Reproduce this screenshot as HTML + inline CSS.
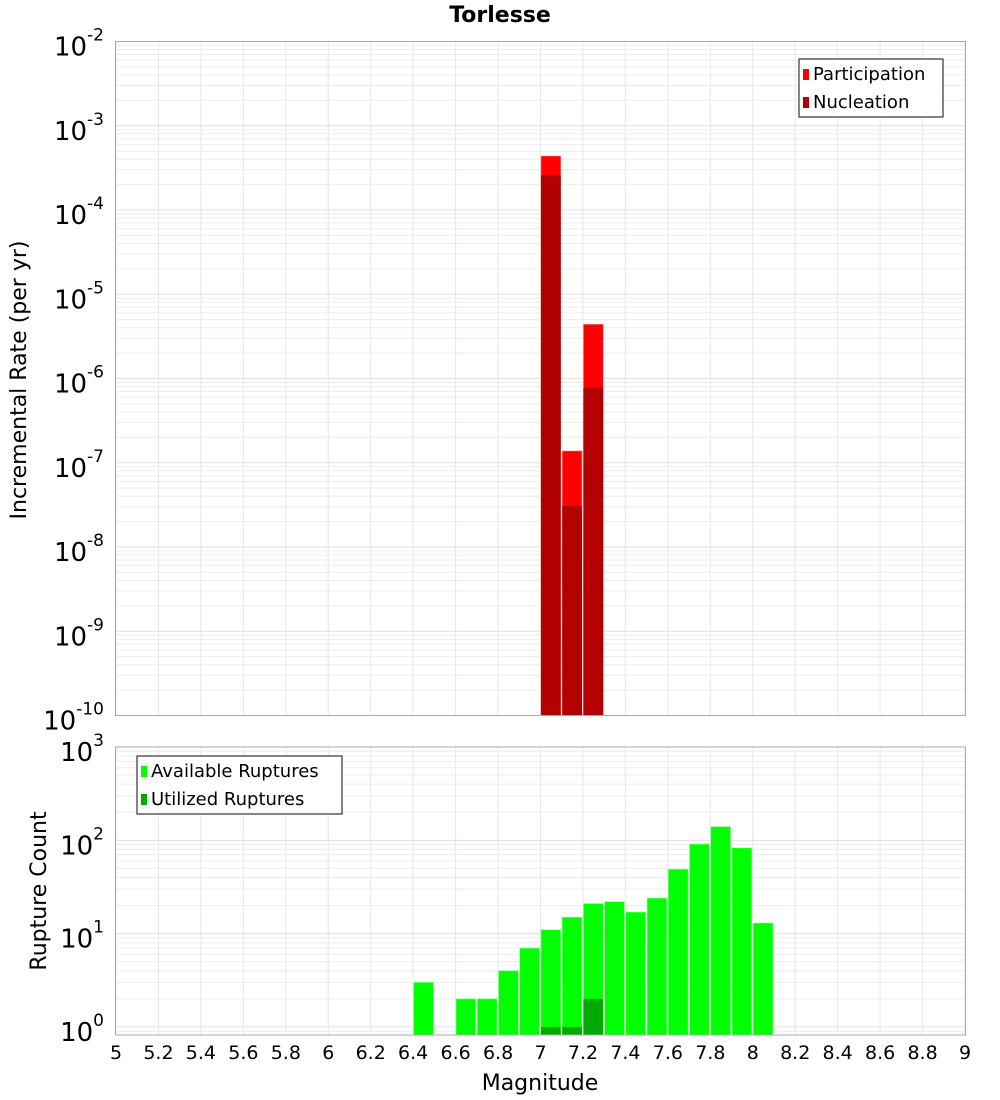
<!DOCTYPE html>
<html><head><meta charset="utf-8"><style>
html,body{margin:0;padding:0;background:#fff;}
svg{display:block;font-family:"Liberation Sans","DejaVu Sans",sans-serif;}
</style></head><body>
<svg id="chart" width="1000" height="1100" xmlns="http://www.w3.org/2000/svg">
<text x="500" y="22" text-anchor="middle" font-size="22" font-weight="bold" font-family="DejaVu Sans, sans-serif">Torlesse</text>
<g id="top"></g><g id="bot"></g>
<text x="540" y="1090" text-anchor="middle" font-size="22" font-family="DejaVu Sans, sans-serif">Magnitude</text>
<text transform="translate(26,380) rotate(-90)" text-anchor="middle" font-size="22" font-family="DejaVu Sans, sans-serif">Incremental Rate (per yr)</text>
<text transform="translate(46,891) rotate(-90)" text-anchor="middle" font-size="22" font-family="DejaVu Sans, sans-serif">Rupture Count</text>
</svg>
<script>
const topBins = [7.0, 7.1, 7.2];
const participation = [4.37e-4, 1.38e-7, 4.4e-6];
const nucleation = [2.58e-4, 3.07e-8, 7.7e-7];
const botBins = [6.4, 6.6, 6.7, 6.8, 6.9, 7.0, 7.1, 7.2, 7.3, 7.4, 7.5, 7.6, 7.7, 7.8, 7.9, 8.0];
const available = [3, 2, 2, 4, 7, 11, 15, 21, 22, 17, 24, 49, 91, 140, 83, 13];
const utilizedBins = [7.0, 7.1, 7.2];
const utilized = [1, 1, 2];
const xTicks = ["5","5.2","5.4","5.6","5.8","6","6.2","6.4","6.6","6.8","7","7.2","7.4","7.6","7.8","8","8.2","8.4","8.6","8.8","9"];
const topDecades = [-2,-3,-4,-5,-6,-7,-8,-9,-10];
const botDecades = [3,2,1,0];

const NS="http://www.w3.org/2000/svg";
const X0=116,X1=965;
function xs(m){return X0+(m-5)/4*(X1-X0);}
const T={top:41.5,bot:715.5,min:-10,max:-2};
const B={top:747,bot:1035,min:-0.086,max:3};
function ys(P,v){const l=Math.log10(v);return P.bot-(l-P.min)/(P.max-P.min)*(P.bot-P.top);}
function mk(parent,tag,attrs){const e=document.createElementNS(NS,tag);for(const k in attrs)e.setAttribute(k,attrs[k]);parent.appendChild(e);return e;}

function panel(g,P,decs,name){
  const bg=mk(g,'rect',{x:X0,y:P.top,width:X1-X0,height:P.bot-P.top,fill:'#fff'});
  
  
  for(let i=0;i<=20;i++){const x=xs(5+i*0.2);const l=mk(g,'line',{x1:x,x2:x,y1:P.top,y2:P.bot,stroke:'#e6e6e6','stroke-width':1});
    
    }
  for(let d=Math.floor(P.min);d<=Math.ceil(P.max);d++){for(let k=1;k<10;k++){const v=k*Math.pow(10,d);const lv=Math.log10(v);if(lv<P.min-1e-9||lv>P.max+1e-9)continue;const y=ys(P,v);
    const l=mk(g,'line',{x1:X0,x2:X1,y1:y,y2:y,stroke:k==1?'#e0e0e0':'#ececec','stroke-width':1});
    
    }}
  decs.forEach(d=>{const y=ys(P,Math.pow(10,d));const t=mk(g,'text',{x:104,y:y+14,'text-anchor':'end','font-size':26,'font-family':'DejaVu Sans, sans-serif'});
    
    
    t.textContent='10';const s=mk(t,'tspan',{dy:-15,'font-size':17});s.textContent=String(d);});
}
const gt=document.getElementById('top'),gb=document.getElementById('bot');
panel(gt,T,topDecades,'top');
panel(gb,B,botDecades,'bottom');

const bw=(xs(5.1)-xs(5));
topBins.forEach((m,i)=>{
  const y1=ys(T,participation[i]);
  const r=mk(gt,'rect',{x:xs(m)+0.5,y:y1,width:bw-1.5,height:T.bot-y1,fill:'#ff0000',stroke:'#ff8080','stroke-width':0.6});
  
  
  const y2=ys(T,nucleation[i]);
  const n=mk(gt,'rect',{x:xs(m)+0.5,y:y2,width:bw-1.5,height:T.bot-y2,fill:'#b30000'});
  
  
});
botBins.forEach((m,i)=>{
  const y=ys(B,available[i]);
  const r=mk(gb,'rect',{x:xs(m)+0.5,y:y,width:bw-1.5,height:B.bot-y,fill:'#00ff00',stroke:'#80ff80','stroke-width':0.6});
  
  
});
utilizedBins.forEach((m,i)=>{
  const y=ys(B,utilized[i]);
  const r=mk(gb,'rect',{x:xs(m)+0.5,y:y,width:bw-1.5,height:B.bot-y,fill:'#00aa00'});
  
  
});
[[gt,T],[gb,B]].forEach(([g,P])=>{const f=mk(g,'rect',{x:X0-0.5,y:P.top,width:X1-X0+1,height:P.bot-P.top,fill:'none',stroke:'#a8a8a8','stroke-width':1});
  
  });
xTicks.forEach((lab,i)=>{const t=mk(gb,'text',{x:xs(5+i*0.2),y:1059,'text-anchor':'middle','font-size':19,'font-family':'DejaVu Sans, sans-serif'});
  
  
  t.textContent=lab;});

function legend(g,x,y,w,items,name){
  const box=mk(g,'rect',{x:x,y:y,width:w,height:58,fill:'#fff',stroke:'#333','stroke-width':1.2});
  
  
  items.forEach((it,i)=>{const sw=mk(g,'rect',{x:x+4,y:y+10+i*28,width:6,height:11,fill:it[1]});
    
    
    const t=mk(g,'text',{x:x+14,y:y+21+i*28,'font-size':18,'font-family':'DejaVu Sans, sans-serif'});
    
    
    t.textContent=it[0];});
}
legend(gt,799,59,144,[['Participation','#ff0000'],['Nucleation','#b30000']],'top-legend');
legend(gb,137,756,205,[['Available Ruptures','#00ff00'],['Utilized Ruptures','#00aa00']],'bottom-legend');
</script>
</body></html>
